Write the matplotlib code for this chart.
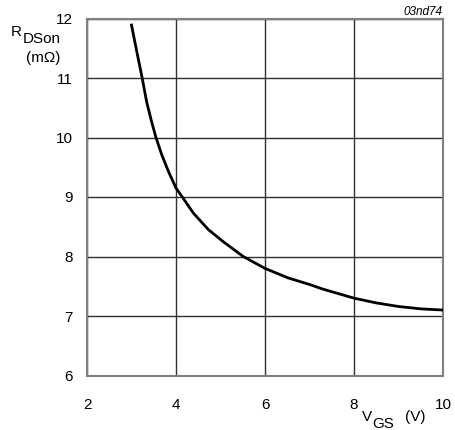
import matplotlib
matplotlib.use('Agg')
import matplotlib.pyplot as plt

plt.rcParams['font.family'] = ['Liberation Sans', 'DejaVu Sans']

# RDSon vs VGS
vgs = [3.0, 3.12, 3.24, 3.34, 3.45, 3.55, 3.68, 3.83, 4.0, 4.16, 4.39, 4.73,
       5.06, 5.51, 6.0, 6.52, 7.0, 7.31, 8.0, 8.5, 9.0, 9.5, 10.0]
rdson = [11.89, 11.44, 11.0, 10.6, 10.27, 10.0, 9.71, 9.43, 9.15, 8.98, 8.73, 8.45,
         8.25, 8.0, 7.8, 7.64, 7.53, 7.45, 7.30, 7.22, 7.16, 7.12, 7.10]
xticks = [2, 4, 6, 8, 10]
yticks = [6, 7, 8, 9, 10, 11, 12]

fig = plt.figure(figsize=(4.55, 4.30), dpi=100)
ax = fig.add_axes([87/455, 1 - 375.5/430, 356/455, 357/430])

ax.plot(vgs, rdson, color='black', lw=2, solid_joinstyle='round', zorder=3)

ax.set_xlim(2, 10)
ax.set_ylim(6, 12)
ax.set_xticks(xticks)
ax.set_yticks(yticks)
ax.tick_params(length=0, labelsize=11)
ax.tick_params(axis='x', pad=16)
ax.tick_params(axis='y', pad=10)
ax.grid(True, color='#303030', lw=1)
for s in ax.spines.values():
    s.set_color('#808080')
    s.set_linewidth(1.5)

# axis labels
fig.text(11/455, 1 - 36/430, 'R', fontsize=11, va='baseline')
fig.text(22.5/455, 1 - 43/430, 'DSon', fontsize=11, va='baseline')
fig.text(26/455, 1 - 62/430, '(m\u03a9)', fontsize=11, va='baseline')

fig.text(361.5/455, 1 - 421/430, 'V', fontsize=11, va='baseline')
fig.text(372.5/455, 1 - 428/430, 'GS', fontsize=11, va='baseline')
fig.text(405/455, 1 - 421/430, '(V)', fontsize=11, va='baseline')

fig.text(442/455, 1 - 15/430, '03nd74', fontsize=8.5, style='italic',
         ha='right', va='baseline')

plt.savefig('out.png', dpi=100)
